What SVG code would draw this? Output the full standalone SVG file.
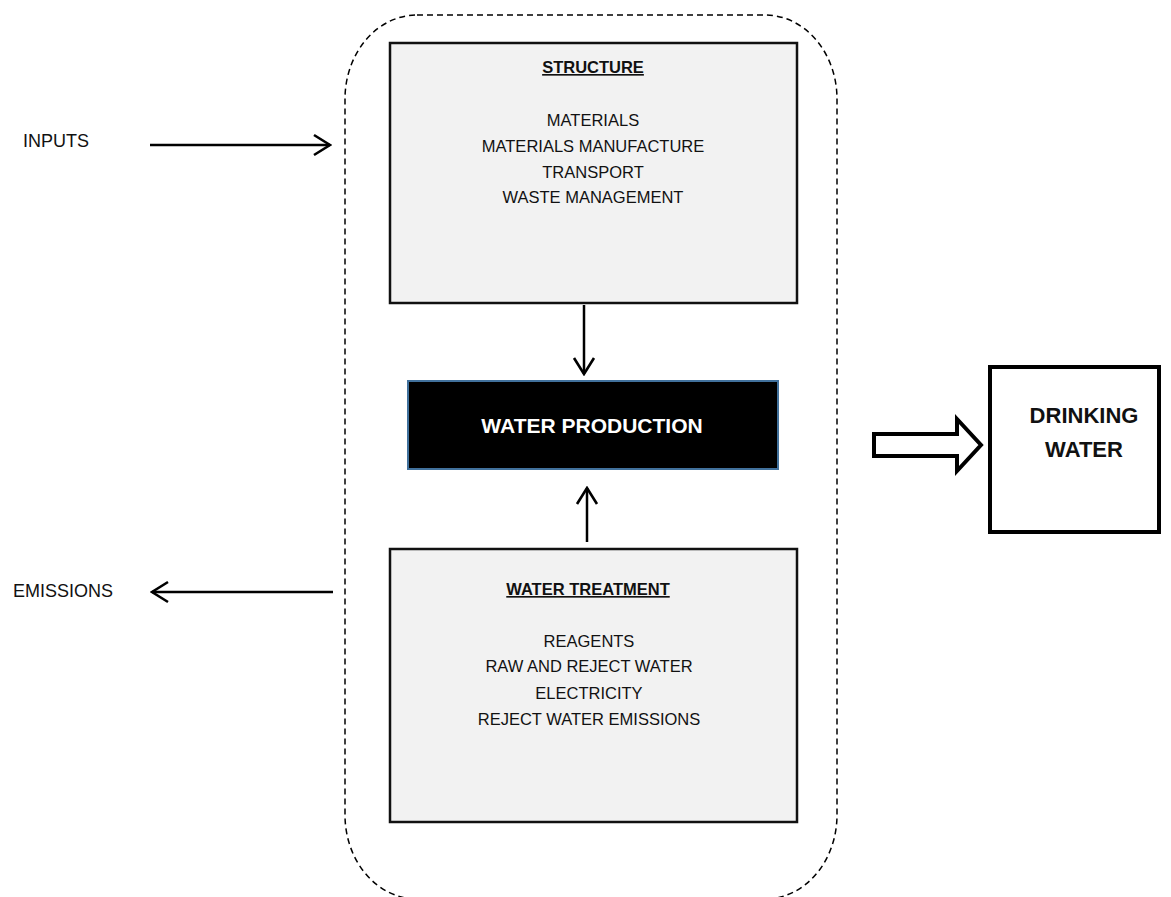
<svg xmlns="http://www.w3.org/2000/svg" width="1171" height="897" viewBox="0 0 1171 897">
<defs>
<style>
.t{font-family:"Liberation Sans",Arial,sans-serif;font-size:16.5px;fill:#111;text-anchor:middle}
.b{font-weight:bold}
.lbl{font-family:"Liberation Sans",Arial,sans-serif;font-size:18px;fill:#111}
.box{fill:#f2f2f2;stroke:#111;stroke-width:2.5}
.ln{stroke:#000;stroke-width:2.5;fill:none}
</style>
<marker id="ah" viewBox="0 0 20 24" refX="18" refY="12" markerWidth="20" markerHeight="24" markerUnits="userSpaceOnUse" orient="auto">
<path d="M2,2 L18,12 L2,22" fill="none" stroke="#000" stroke-width="2.6"/>
</marker>
</defs>
<rect width="1171" height="897" fill="#fff"/>
<g id="boundary">
<rect x="345" y="15" width="492" height="884" rx="72" ry="84" fill="none" stroke="#000" stroke-width="1.5" stroke-dasharray="6,4"/>
</g>
<g id="structure">
<rect class="box" x="390" y="43" width="407" height="260"/>
<text class="t b" x="593" y="73" text-decoration="underline">STRUCTURE</text>
<text class="t" x="593" y="126">MATERIALS</text>
<text class="t" x="593" y="152">MATERIALS MANUFACTURE</text>
<text class="t" x="593" y="178">TRANSPORT</text>
<text class="t" x="593" y="203">WASTE MANAGEMENT</text>
</g>
<g id="water-production">
<rect x="408" y="381" width="370" height="88" fill="#000" stroke="#41719c" stroke-width="2"/>
<text class="t b" x="592" y="433" style="font-size:21px;fill:#fff">WATER PRODUCTION</text>
</g>
<g id="water-treatment">
<rect class="box" x="390" y="549" width="407" height="273"/>
<text class="t b" x="588" y="595" text-decoration="underline">WATER TREATMENT</text>
<text class="t" x="589" y="647">REAGENTS</text>
<text class="t" x="589" y="672">RAW AND REJECT WATER</text>
<text class="t" x="589" y="699">ELECTRICITY</text>
<text class="t" x="589" y="725">REJECT WATER EMISSIONS</text>
</g>
<g id="drinking-water">
<rect x="990" y="367" width="169" height="165" fill="#fff" stroke="#000" stroke-width="4"/>
<text class="t b" x="1084" y="423" style="font-size:22px">DRINKING</text>
<text class="t b" x="1084" y="457" style="font-size:22px">WATER</text>
</g>
<g id="inputs-label">
<text class="lbl" x="23" y="147">INPUTS</text>
</g>
<g id="emissions-label">
<text class="lbl" x="13" y="597">EMISSIONS</text>
</g>
<g id="connectors">
<line class="ln" x1="150" y1="145" x2="330" y2="145" marker-end="url(#ah)"/>
<line class="ln" x1="333" y1="592" x2="152" y2="592" marker-end="url(#ah)"/>
<line class="ln" x1="584" y1="305" x2="584" y2="374" marker-end="url(#ah)"/>
<line class="ln" x1="587" y1="542" x2="587" y2="488" marker-end="url(#ah)"/>
<path d="M874,434 L957,434 L957,419 L981,445 L957,471 L957,456 L874,456 Z" fill="#fff" stroke="#000" stroke-width="4" stroke-linejoin="miter"/>
</g>
</svg>
